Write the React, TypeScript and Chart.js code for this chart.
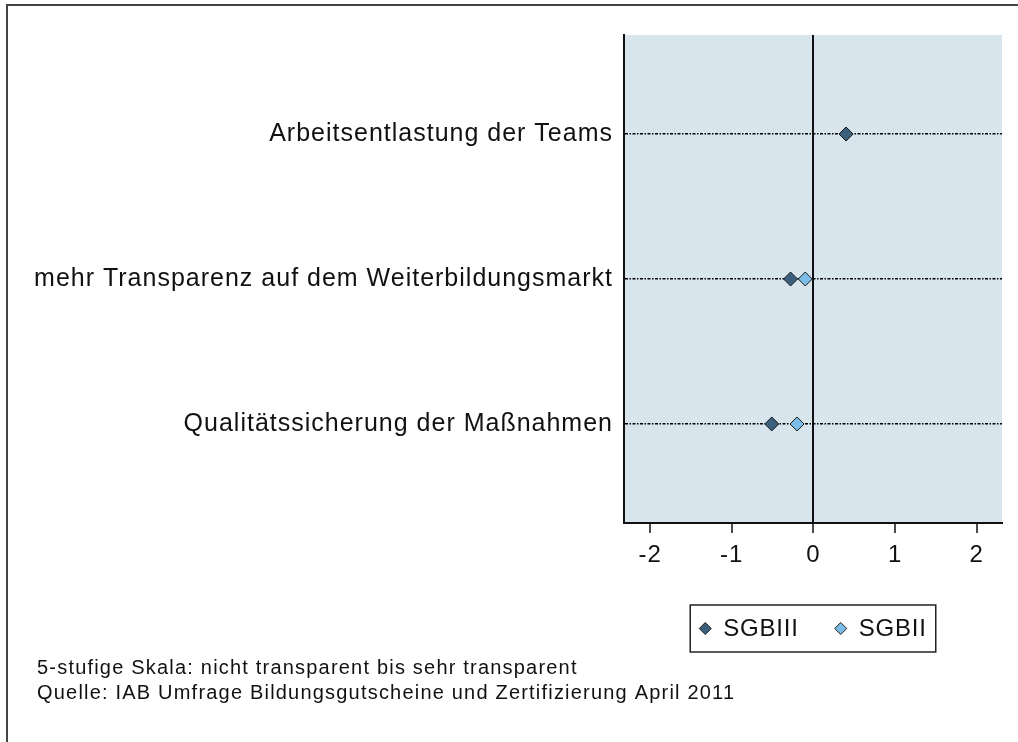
import React, { useEffect, useRef } from "react";
import { Chart, registerables } from "chart.js";

Chart.register(...registerables);

const categories = [
  "Arbeitsentlastung der Teams",
  "mehr Transparenz auf dem Weiterbildungsmarkt",
  "Qualitätssicherung der Maßnahmen",
];
const categoryPositions = [1, 2, 3];
const seriesNames = ["SGBIII", "SGBII"];
const sgbIII = [0.4, -0.28, -0.51];
const sgbII = [0.4, -0.1, -0.2];
const xTicks = [-2, -1, 0, 1, 2];
const footnotes = [
  "5-stufige Skala: nicht transparent bis sehr transparent",
  "Quelle: IAB Umfrage Bildungsgutscheine und Zertifizierung April 2011",
];

const COLORS = ["#3a607d", "#7cbde8"];
const FONT = '"Liberation Sans", Arial, sans-serif';
const SPACING = "1px";

function diamond(ctx: CanvasRenderingContext2D, x: number, y: number, r: number, fill: string) {
  ctx.beginPath();
  ctx.moveTo(x, y - r);
  ctx.lineTo(x + r, y);
  ctx.lineTo(x, y + r);
  ctx.lineTo(x - r, y);
  ctx.closePath();
  ctx.fillStyle = fill;
  ctx.fill();
  ctx.lineWidth = 1;
  ctx.strokeStyle = "#1a1a1a";
  ctx.stroke();
}

const deco = {
  id: "deco",
  beforeLayout(chart: any) {
    chart.ctx.letterSpacing = SPACING;
  },
  beforeDraw(chart: any) {
    const { ctx, chartArea: a, width, height } = chart;
    ctx.save();
    ctx.fillStyle = "#ffffff";
    ctx.fillRect(0, 0, width, height);
    ctx.fillStyle = "#d9e5ec";
    ctx.fillRect(a.left, a.top, a.right - a.left, a.bottom - a.top);
    ctx.strokeStyle = "#444444";
    ctx.lineWidth = 2;
    ctx.beginPath();
    ctx.moveTo(7, height);
    ctx.lineTo(7, 5);
    ctx.lineTo(width, 5);
    ctx.stroke();
    ctx.restore();
    ctx.letterSpacing = SPACING;
  },
  afterDraw(chart: any) {
    const { ctx, chartArea: a } = chart;
    ctx.save();
    ctx.letterSpacing = "0.8px";
    // legend
    ctx.font = `24px ${FONT}`;
    const w0 = ctx.measureText(seriesNames[0]).width;
    const w1 = ctx.measureText(seriesNames[1]).width;
    const pad = 9, dsz = 12, gap = 12, between = 36;
    const total = pad + dsz + gap + w0 + between + dsz + gap + w1 + pad;
    const cx = (a.left + a.right) / 2;
    const left = cx - total / 2;
    const top = a.bottom + 82;
    const h = 47;
    const midY = top + h / 2;
    ctx.strokeStyle = "#222";
    ctx.lineWidth = 1.5;
    ctx.strokeRect(left, top, total, h);
    let x = left + pad;
    diamond(ctx, x + dsz / 2, midY, dsz / 2, COLORS[0]);
    x += dsz + gap;
    ctx.fillStyle = "#111";
    ctx.textBaseline = "middle";
    ctx.textAlign = "left";
    ctx.fillText(seriesNames[0], x, midY + 1);
    x += w0 + between;
    diamond(ctx, x + dsz / 2, midY, dsz / 2, COLORS[1]);
    x += dsz + gap;
    ctx.fillStyle = "#111";
    ctx.fillText(seriesNames[1], x, midY + 1);
    // footnotes
    ctx.font = `20px ${FONT}`;
    ctx.letterSpacing = "1.2px";
    ctx.fillStyle = "#111";
    footnotes.forEach((t, i) => {
      ctx.fillText(t, 37, 668 + i * 25);
    });
    ctx.restore();
  },
};

export default function App() {
  const ref = useRef<HTMLCanvasElement | null>(null);
  useEffect(() => {
    if (!ref.current) return;
    const chart = new Chart(ref.current, {
      type: "scatter",
      data: {
        datasets: [
          {
            label: seriesNames[0],
            data: sgbIII.map((v, i) => ({ x: v, y: categoryPositions[i] })),
            backgroundColor: COLORS[0],
            borderColor: "#1a1a1a",
            borderWidth: 1,
            pointStyle: "rectRot",
            pointRadius: 7,
          },
          {
            label: seriesNames[1],
            data: sgbII.map((v, i) => ({ x: v, y: categoryPositions[i] })),
            backgroundColor: COLORS[1],
            borderColor: "#1a1a1a",
            borderWidth: 1,
            pointStyle: "rectRot",
            pointRadius: 7,
          },
        ],
      },
      options: {
        animation: false,
        responsive: false,
        devicePixelRatio: 1,
        layout: { padding: { left: 0, right: 16, top: 35, bottom: 169 } },
        plugins: { legend: { display: false }, tooltip: { enabled: false } },
        scales: {
          x: {
            type: "linear",
            min: -2.32,
            max: 2.31,
            afterBuildTicks: (s: any) => {
              s.ticks = xTicks.map((v) => ({ value: v }));
            },
            afterFit: (s: any) => {
              s.height = 50;
            },
            grid: {
              drawOnChartArea: true,
              drawTicks: true,
              color: (c: any) => (c.tick && c.tick.value === 0 ? "#111" : "rgba(0,0,0,0)"),
              lineWidth: 2,
              tickColor: "#111",
              tickWidth: 1.5,
              tickLength: 10,
            },
            border: { display: true, color: "#111", width: 2 },
            ticks: {
              font: { family: FONT, size: 24 },
              color: "#111",
              padding: 8,
              maxRotation: 0,
              autoSkip: false,
            },
          },
          y: {
            type: "linear",
            reverse: true,
            min: 0.317,
            max: 3.683,
            afterBuildTicks: (s: any) => {
              s.ticks = categoryPositions.map((v) => ({ value: v }));
            },
            afterFit: (s: any) => {
              s.width = 624;
            },
            grid: { drawTicks: false, color: "#000", lineWidth: 1.5 },
            border: { display: true, color: "#111", width: 2, dash: [3, 1.5, 1.5, 1.5] },
            ticks: {
              callback: (v: any) => {
                const i = categoryPositions.indexOf(Number(v));
                return i >= 0 ? categories[i] : "";
              },
              font: { family: FONT, size: 25 },
              color: "#111",
              padding: 11,
              autoSkip: false,
            },
          },
        },
      },
      plugins: [deco],
    } as any);
    return () => chart.destroy();
  }, []);
  return (
    <canvas
      ref={ref}
      width={1018}
      height={742}
      style={{ position: "absolute", left: 0, top: 0, display: "block" }}
    />
  );
}
